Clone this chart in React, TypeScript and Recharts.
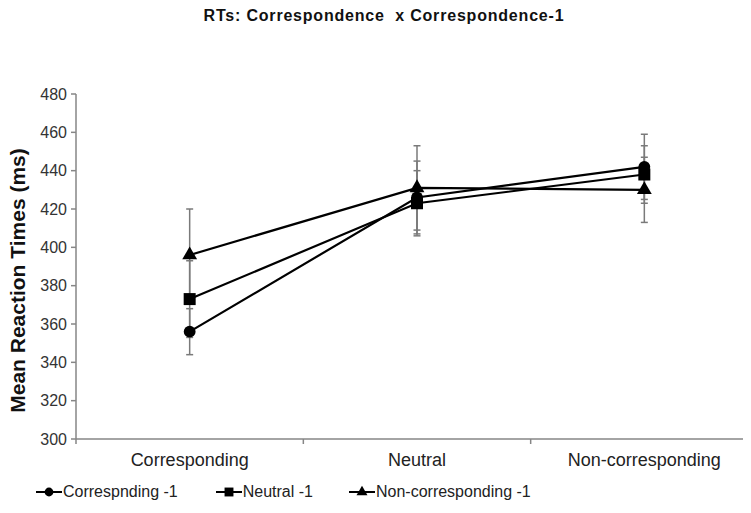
import { LineChart, Line, XAxis, YAxis, ErrorBar, Symbols, Label } from 'recharts';

const categories = ['Corresponding', 'Neutral', 'Non-corresponding'];

const correspondingPrev = [356, 426, 442];
const correspondingPrevErr = [12, 19, 17];
const neutralPrev = [373, 423, 438];
const neutralPrevErr = [20, 17, 15];
const nonCorrespondingPrev = [396, 431, 430];
const nonCorrespondingPrevErr = [24, 22, 17];

const yTicks = [300, 320, 340, 360, 380, 400, 420, 440, 460, 480];

const series = [
  { key: 'corr', name: 'Correspnding -1', shape: 'circle', size: 110 },
  { key: 'neut', name: 'Neutral -1', shape: 'square', size: 144 },
  { key: 'nonc', name: 'Non-corresponding -1', shape: 'triangle', size: 95 },
];

const data = categories.map((cat, i) => ({
  cat,
  corr: correspondingPrev[i],
  corrErr: correspondingPrevErr[i],
  neut: neutralPrev[i],
  neutErr: neutralPrevErr[i],
  nonc: nonCorrespondingPrev[i],
  noncErr: nonCorrespondingPrevErr[i],
}));

const FONT = '"Liberation Sans", Arial, sans-serif';
const AXIS = '#868686';

// chart geometry (plot area 76..758 x 94..439, right edge falls outside the window)
const CHART_W = 770;
const CHART_H = 513;
const X_H = 30;
const MARGIN = { top: 94, right: 12, bottom: 74 - X_H, left: 0 };
const Y_W = 76;
const PLOT_W = CHART_W - MARGIN.right - MARGIN.left - Y_W;
const HALF_BAND = PLOT_W / 6;

const makeDot = (type: string, size: number) => (props: any) => {
  const { cx, cy, index } = props;
  if (cx == null || cy == null) return <g key={`d-${type}-${index}`} />;
  return <Symbols key={`d-${type}-${index}`} cx={cx} cy={cy} type={type as any} size={size} fill="#000" stroke="none" />;
};

const CategoryTick = (props: any) => {
  const { x, y, payload } = props;
  return (
    <g>
      <line x1={x - HALF_BAND} x2={x - HALF_BAND} y1={y} y2={y + 5} stroke={AXIS} strokeWidth={1.5} />
      <text x={x} y={y + 27} textAnchor="middle" fontSize={18} fill="#222" fontFamily={FONT}>
        {payload.value}
      </text>
    </g>
  );
};

const App = () => {
  return (
    <div style={{ margin: -8, width: 751, height: 513, overflow: 'hidden', position: 'relative', background: '#fff', fontFamily: FONT }}>
      <div style={{ position: 'absolute', left: 0, top: 7, width: 768, textAlign: 'center', fontWeight: 'bold', fontSize: 16, letterSpacing: 0.8, color: '#111', whiteSpace: 'pre' }}>
        {'RTs: Correspondence  x Correspondence-1'}
      </div>
      <LineChart width={CHART_W} height={CHART_H} data={data} margin={MARGIN}>
        <XAxis
          dataKey="cat"
          height={X_H}
          padding={{ left: HALF_BAND, right: HALF_BAND }}
          tickLine={false}
          tickSize={0}
          tickMargin={0}
          interval={0}
          axisLine={{ stroke: AXIS, strokeWidth: 1.5 }}
          tick={<CategoryTick />}
        />
        <YAxis
          width={Y_W}
          domain={[300, 480]}
          ticks={yTicks}
          interval={0}
          tickSize={5}
          tickMargin={4}
          axisLine={{ stroke: AXIS, strokeWidth: 1.5 }}
          tickLine={{ stroke: AXIS, strokeWidth: 1.5 }}
          tick={{ fontSize: 16, fill: '#333', fontFamily: FONT }}
        >
          <Label
            content={({ viewBox }: any) => {
              const cx = viewBox.x + 17;
              const cy = viewBox.y + viewBox.height / 2 + 14;
              return (
                <text
                  x={cx}
                  y={cy}
                  transform={`rotate(-90, ${cx}, ${cy})`}
                  textAnchor="middle"
                  dominantBaseline="central"
                  fontSize={21}
                  fontWeight="bold"
                  fill="#111"
                  fontFamily={FONT}
                >
                  Mean Reaction Times (ms)
                </text>
              );
            }}
          />
        </YAxis>
        {series.map((s) => (
          <Line
            key={s.key}
            dataKey={s.key}
            name={s.name}
            stroke="#000"
            strokeWidth={2.2}
            isAnimationActive={false}
            dot={makeDot(s.shape, s.size)}
            activeDot={false}
          >
            <ErrorBar dataKey={`${s.key}Err`} direction="y" width={3.5} stroke="#7a7a7a" strokeWidth={1.5} />
          </Line>
        ))}
      </LineChart>
      <div style={{ position: 'absolute', left: 36, top: 482, display: 'flex', alignItems: 'center', fontSize: 16, color: '#222' }}>
        {series.map((s, i) => (
          <div key={s.key} style={{ display: 'flex', alignItems: 'center', marginRight: i === 0 ? 38 : 36 }}>
            <svg width={26} height={20}>
              <line x1={0} x2={26} y1={10} y2={10} stroke="#000" strokeWidth={2} />
              <Symbols cx={13} cy={10} type={s.shape as any} size={s.size * 0.55} fill="#000" />
            </svg>
            <span style={{ marginLeft: 1 }}>{s.name}</span>
          </div>
        ))}
      </div>
    </div>
  );
};

export default App;
